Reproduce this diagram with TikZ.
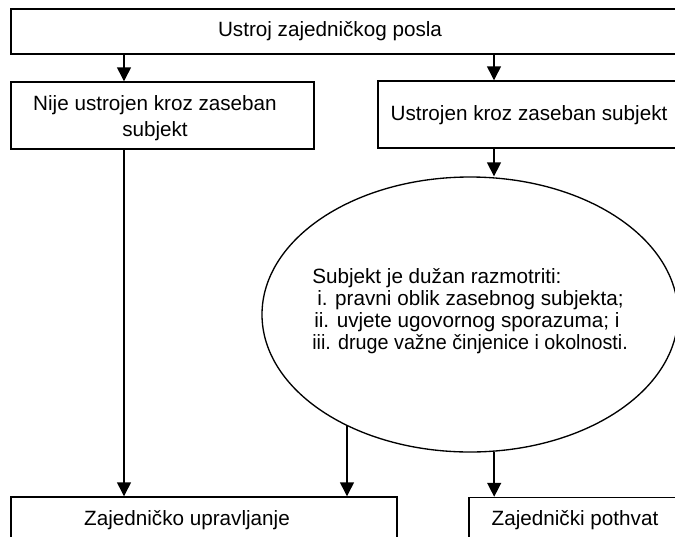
\documentclass[tikz,border=0pt]{standalone}
\usepackage{graphicx}
\usepackage{fontspec}
\setmainfont{Liberation Sans}
\usetikzlibrary{arrows.meta,shapes.geometric}
\begin{document}
\begin{tikzpicture}[x=0.75pt,y=-0.75pt,
  box/.style={draw=black,line width=1.1pt,rectangle,inner sep=0pt},
  lbl/.style={font=\fontsize{15.5}{17}\selectfont,inner sep=0pt,align=center},
  arr/.style={draw=black,line width=1.1pt,-{Triangle[length=10.5pt,width=10.5pt]}}]
% page frame; boxes running past the right and bottom edges are cut off
\clip (0,0) rectangle (675,536);

% top box
\node[box,minimum width=516.75pt,minimum height=33.75pt] (top) at (355.5,31.5) {};
\node[lbl] (topT) at (330,31) {Ustroj zajedničkog posla};

% second row
\node[box,minimum width=227.25pt,minimum height=50.25pt] (nije) at (162.5,115.5) {};
\node[lbl] (nijeT) at (155,118) {Nije ustrojen kroz zaseban\\[3pt]subjekt};
\node[box,minimum width=241.5pt,minimum height=50.25pt] (ustr) at (539,114.5) {};
\node[lbl] (ustrT) at (529,115) {Ustrojen kroz zaseban subjekt};

% assessment ellipse
\node[draw=black,ellipse,line width=1pt,minimum width=312pt,minimum height=206.25pt,inner sep=0pt] (ell) at (470,314.5) {};
\node[lbl,align=left,anchor=west,font=\fontsize{15.5}{16.5}\selectfont] (ellT) at (312,311)
  {Subjekt je dužan razmotriti:\\
   \hspace*{3.75pt}i. pravni oblik zasebnog subjekta;\\
   \hspace*{1.5pt}ii. uvjete ugovornog sporazuma; i\\
   \scalebox{0.955}[1]{iii. druge važne činjenice i okolnosti.}};

% bottom row
\node[box,minimum width=289.5pt,minimum height=47.25pt] (upr) at (204,528.5) {};
\node[lbl] (uprT) at (187,520.5) {Zajedničko upravljanje};
\node[box,minimum width=173.25pt,minimum height=47.25pt] (poth) at (584.5,529) {};
\node[lbl] (pothT) at (575,520.5) {Zajednički pothvat};

% arrow columns
\coordinate (xa) at (124,0);
\coordinate (xb) at (494,0);
\coordinate (xc) at (347,0);

% connectors
\draw[arr] (top.south -| xa) -- (nije.north -| xa);
\draw[arr] (top.south -| xb) -- (ustr.north -| xb);
\draw[arr] (ustr.south -| xb) -- (ell.north -| xb);
\draw[arr] (nije.south -| xa) -- (upr.north -| xa);
\draw[arr] (xc |- ell.222) -- (xc |- upr.north);
\draw[arr] (ell.280) -- (ell.280 |- poth.north);
\end{tikzpicture}
\end{document}
